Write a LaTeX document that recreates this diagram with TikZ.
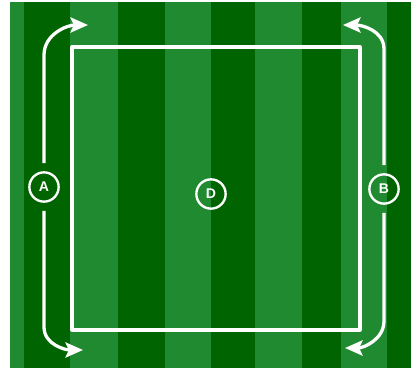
\documentclass[tikz,border=0pt]{standalone}
\usepackage{fontspec}
\setsansfont{Liberation Sans}
\usetikzlibrary{arrows.meta}
\definecolor{grassD}{RGB}{0,100,0}
\definecolor{grassL}{RGB}{32,138,48}
\tikzset{
  pitch/.style={x=0.03cm, y=0.03cm, line join=round},
  lbl/.style={circle, draw=white, line width=2pt, minimum size=25pt, inner sep=0pt, text=white, font=\sffamily\bfseries\fontsize{12}{12}\selectfont},
  run/.style={-{Stealth[length=15pt,width=13pt,inset=3pt]}, draw=white, line width=2.8pt, shorten <=0.24cm},
  fieldline/.style={draw=white, line width=2.8pt}
}

\begin{document}
\begin{tikzpicture}[pitch]
\fill[white] (0,0) rectangle (411,369);
\fill[grassL] (10,1) rectangle (411,367);
\foreach \a/\b in {24/70,118/165,211/255,302/341,387/411}
  \fill[grassD] (\a,1) rectangle (\b,367);
\draw[fieldline] (72,39) rectangle (360,322);
\node[lbl] (A) at (44,182) {A};
\node[lbl] (B) at (384,180) {B};
\node[lbl] (D) at (211,175) {D};
\coordinate (A1) at (88,344); \coordinate (A2) at (83,19);
\coordinate (B1) at (343,344); \coordinate (B2) at (345,21);
\draw[run] (A) -- (44,314) to[out=90,in=180] (A1);
\draw[run] (A) -- (44,42) to[out=-90,in=180] (A2);
\draw[run] (B) -- (384,320) to[out=90,in=0] (B1);
\draw[run] (B) -- (384,48) to[out=-90,in=0] (B2);
\end{tikzpicture}
\end{document}
